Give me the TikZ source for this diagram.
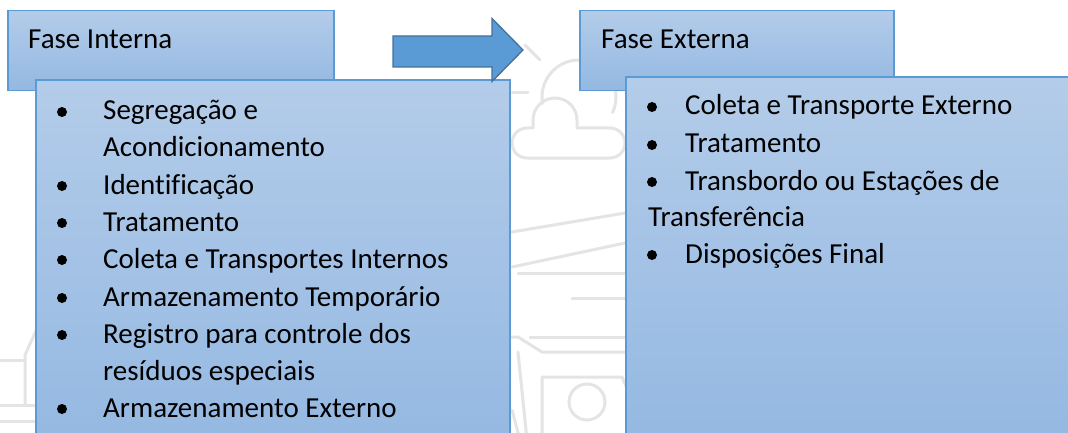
\documentclass[tikz,border=0pt]{standalone}
\usepackage{fontspec}
\setmainfont{Carlito}[Ligatures=CommonOff]
\definecolor{boxtop}{HTML}{B3CCE9}
\definecolor{boxbot}{HTML}{94B8E2}
\definecolor{boxline}{HTML}{5B9BD5}
\definecolor{arrfill}{HTML}{5B9BD5}
\definecolor{arrline}{HTML}{41719C}
\definecolor{wmgray}{HTML}{E4E4E4}
\tikzset{
  panel/.style={rectangle, draw=boxline, line width=1.2pt, top color=boxtop, bottom color=boxbot, inner sep=0pt},
  wm/.style={draw=wmgray, line width=3pt, line cap=round, line join=round},
  bul/.style={circle, fill=black, minimum size=10pt, inner sep=0pt},
  txt/.style={anchor=base west, inner sep=0pt, font=\fontsize{29}{34}\selectfont},
  blockarrow/.style={fill=arrfill, draw=arrline, line width=1.3pt, line join=miter}
}
\begin{document}
\begin{tikzpicture}[x=1pt,y=-1pt]
\useasboundingbox (0,0) rectangle (1068,433);
\clip (0,0) rectangle (1068,433);
% watermark
\draw[wm] (525,45) -- (540,60);
\draw[wm] (512,93) -- (528,93);
\draw[wm] (579,97) ++(170:37) arc[start angle=170, end angle=385, radius=37];
\draw[wm] (610,158) arc[start angle=90, end angle=-90, radius=15] -- (577,128) -- (577,120)
  arc[start angle=0, end angle=-180, radius=22] -- (533,128) -- (527,128)
  arc[start angle=-90, end angle=-270, radius=15] -- cycle;
\draw[wm] (512,232) -- (625,213);
\draw[wm] (512,267) -- (625,243);
\draw[wm] (518,273) -- (625,273);
\draw[wm] (572,298) -- (625,298);
\draw[wm] (530,337) -- (625,337);
\draw[wm] (500,337) -- (518,337) -- (542,352) -- (625,352);
\draw[wm] (518,352) -- (527,440);
\draw[wm] (512,410) -- (520,440);
\draw[wm] (542,440) -- (542,377) -- (622,377) -- (632,400);
\draw[wm] (587,402) circle[radius=18];
\draw[wm] (40,322) -- (25,355) -- (25,405);
\draw[wm] (-5,360) -- (25,360);
\draw[wm] (-5,405) -- (40,405);
\draw[wm] (-5,421) -- (40,421);
% panels
\node[panel, minimum width=326pt, minimum height=80pt] (hin) at (171,50.5) {};
\node[panel, minimum width=474pt, minimum height=370pt] (bin) at (273,265) {};
\node[panel, minimum width=314pt, minimum height=80pt] (hex) at (737,50.5) {};
\node[panel, minimum width=454pt, minimum height=370pt] (bex) at (853,262) {};
% block arrow
\draw[blockarrow] (393,36) -- (492,36) -- (492,18.5) -- (523,50) -- (492,81.5) -- (492,67) -- (393,67) -- cycle;
% headers
\node[txt] (thin) at (28,49) {Fase Interna};
\node[txt] (thex) at (601,49) {Fase Externa};
% left items
\node[bul] (lb1) at (62,112) {};
\node[txt] (l1) at (103,120) {Segregação e};
\node[txt] (l1b) at (103,157) {Acondicionamento};
\node[bul] (lb2) at (62,186) {};
\node[txt] (l2) at (103,194) {Identificação};
\node[bul] (lb3) at (62,223) {};
\node[txt] (l3) at (103,231) {Tratamento};
\node[bul] (lb4) at (62,260) {};
\node[txt] (l4) at (103,268) {Coleta e Transportes Internos};
\node[bul] (lb5) at (62,298) {};
\node[txt] (l5) at (103,306) {Armazenamento Temporário};
\node[bul] (lb6) at (62,335) {};
\node[txt] (l6) at (103,343) {Registro para controle dos};
\node[txt] (l6b) at (103,380) {resíduos especiais};
\node[bul] (lb7) at (62,409) {};
\node[txt] (l7) at (103,417) {Armazenamento Externo};
% right items
\node[bul] (rb1) at (652,107) {};
\node[txt] (r1) at (685,115) {Coleta e Transporte Externo};
\node[bul] (rb2) at (652,145) {};
\node[txt] (r2) at (685,153) {Tratamento};
\node[bul] (rb3) at (652,182) {};
\node[txt] (r3) at (685,190) {Transbordo ou Estações de};
\node[txt] (r3b) at (648,226) {Transferência};
\node[bul] (rb4) at (652,255) {};
\node[txt] (r4) at (685,263) {Disposições Final};
\end{tikzpicture}
\end{document}
